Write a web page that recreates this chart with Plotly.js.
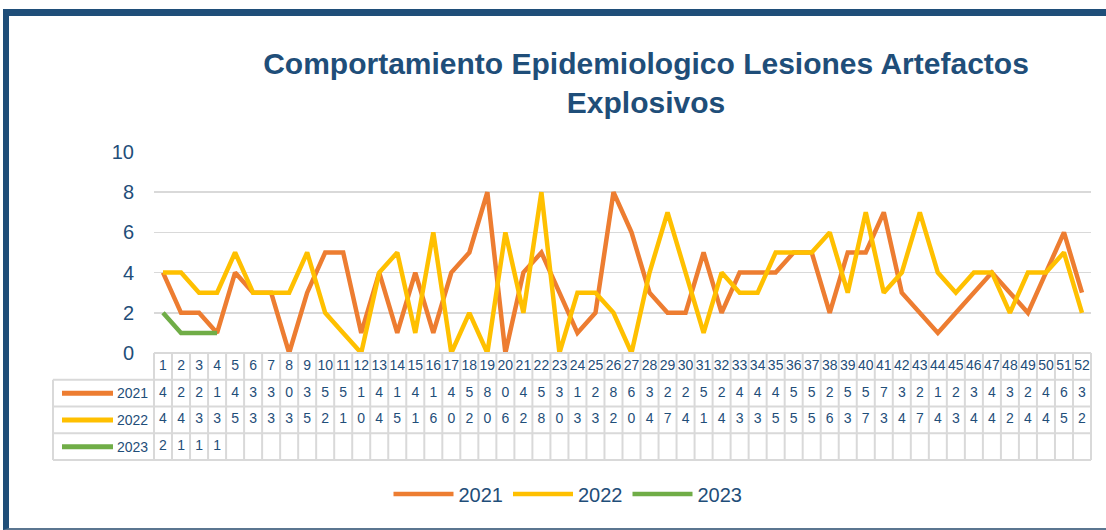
<!DOCTYPE html>
<html><head><meta charset="utf-8">
<script src="https://cdn.plot.ly/plotly-3.0.1.min.js"></script>
<style>
html,body{margin:0;padding:0;background:#fff;overflow:hidden;}
#wrap{position:relative;width:1106px;height:530px;}
#chart{width:1106px;height:530px;}
#frame{position:absolute;left:3px;top:9px;width:1103px;height:521px;box-sizing:border-box;border-top:7px solid #1F4E79;border-left:6px solid #1F4E79;border-bottom:2px solid #5B7690;pointer-events:none;}
</style></head><body>
<div id="wrap"><div id="chart"></div><div id="frame"></div></div>
<script>
const weeks=[1,2,3,4,5,6,7,8,9,10,11,12,13,14,15,16,17,18,19,20,21,22,23,24,25,26,27,28,29,30,31,32,33,34,35,36,37,38,39,40,41,42,43,44,45,46,47,48,49,50,51,52];
const years=['2021','2022','2023'];
const v2021=[4,2,2,1,4,3,3,0,3,5,5,1,4,1,4,1,4,5,8,0,4,5,3,1,2,8,6,3,2,2,5,2,4,4,4,5,5,2,5,5,7,3,2,1,2,3,4,3,2,4,6,3];
const v2022=[4,4,3,3,5,3,3,3,5,2,1,0,4,5,1,6,0,2,0,6,2,8,0,3,3,2,0,4,7,4,1,4,3,3,5,5,5,6,3,7,3,4,7,4,3,4,4,2,4,4,5,2];
const v2023=[2,1,1,1];
const yTicks=[0,2,4,6,8,10];
const series=[v2021,v2022,v2023];
const colors=['#ED7D31','#FFC000','#70AD47'];

const FONT='"Liberation Sans",Arial,sans-serif';
const TXT='#1F4E79';
// plot area pixels
const L=154,R=1091,T=152,B=460,W=1106,H=530;
const px=p=>(p-L)/(R-L);
const py=p=>(B-p)/(B-T);
const rowTop=353, rowH=26.75;
const rowY=k=>rowTop+k*rowH;

const traces=[];
series.forEach((vals,i)=>{
  traces.push({x:weeks.slice(0,vals.length),y:vals,type:'scatter',mode:'lines',name:years[i],
    line:{color:colors[i],width:4.5},xaxis:'x',yaxis:'y',hoverinfo:'x+y+name'});
});
// table header
traces.push({x:weeks,y:weeks.map(()=>0.52),text:weeks.map(String),mode:'text',type:'scatter',
  xaxis:'x',yaxis:'y2',showlegend:false,hoverinfo:'skip',cliponaxis:false,
  textfont:{family:FONT,size:14,color:TXT}});
series.forEach((vals,i)=>{
  traces.push({x:weeks.slice(0,vals.length),y:vals.map(()=>i+1.5),text:vals.map(String),mode:'text',type:'scatter',
    xaxis:'x',yaxis:'y2',showlegend:false,hoverinfo:'skip',cliponaxis:false,
    textfont:{family:FONT,size:14,color:TXT}});
});

const shapes=[];
const G='#D9D9D9';
shapes.push({type:'line',xref:'paper',yref:'paper',x0:px(L),x1:px(R),y0:py(rowY(0)),y1:py(rowY(0)),line:{color:G,width:2}});
for(let k=1;k<=4;k++){
  shapes.push({type:'line',xref:'paper',yref:'paper',x0:px(53),x1:px(R),y0:py(rowY(k)),y1:py(rowY(k)),line:{color:G,width:2}});
}
for(let j=0;j<=weeks.length;j++){
  const xx=L+j*(R-L)/weeks.length;
  shapes.push({type:'line',xref:'paper',yref:'paper',x0:px(xx),x1:px(xx),y0:py(rowY(0)),y1:py(rowY(4)),line:{color:G,width:2}});
}
shapes.push({type:'line',xref:'paper',yref:'paper',x0:px(53),x1:px(53),y0:py(rowY(1)),y1:py(rowY(4)),line:{color:G,width:2}});
const annotations=[];
years.forEach((yr,i)=>{
  const yc=rowY(i+1)+rowH/2;
  shapes.push({type:'line',xref:'paper',yref:'paper',x0:px(62),x1:px(113),y0:py(yc),y1:py(yc),line:{color:colors[i],width:5}});
  annotations.push({xref:'paper',yref:'paper',x:px(150),y:py(yc),xanchor:'right',yanchor:'middle',text:yr,showarrow:false,
    font:{family:FONT,size:14,color:TXT}});
});

const layout={
  width:W,height:H,margin:{l:L,r:W-R,t:T,b:H-B},
  paper_bgcolor:'#fff',plot_bgcolor:'rgba(0,0,0,0)',
  title:{text:'Comportamiento Epidemiologico Lesiones Artefactos<br>Explosivos',
    font:{family:FONT,size:30,color:TXT,weight:'bold'},xref:'container',yref:'container',
    x:646/W,xanchor:'center',y:1-74/H,yanchor:'middle'},
  xaxis:{range:[0.5,weeks.length+0.5],showticklabels:false,showgrid:false,zeroline:false,ticks:'',fixedrange:true},
  yaxis:{domain:[py(353),1],range:[0,10],tickvals:yTicks,ticktext:yTicks.map(String),showgrid:true,gridcolor:G,gridwidth:1.5,
    zeroline:false,ticks:'',ticklabelstandoff:19,tickfont:{family:FONT,size:20,color:TXT},fixedrange:true},
  yaxis2:{domain:[0,py(353)],range:[4,0],showticklabels:false,showgrid:false,zeroline:false,ticks:'',fixedrange:true},
  showlegend:true,
  legend:{orientation:'h',xref:'paper',yref:'paper',x:px(568),xanchor:'center',y:py(494),yanchor:'middle',
    font:{family:FONT,size:20,color:TXT},itemwidth:60,traceorder:'normal'},
  shapes:shapes,annotations:annotations
};
Plotly.newPlot('chart',traces,layout,{displayModeBar:false,staticPlot:true});
</script>
</body></html>
